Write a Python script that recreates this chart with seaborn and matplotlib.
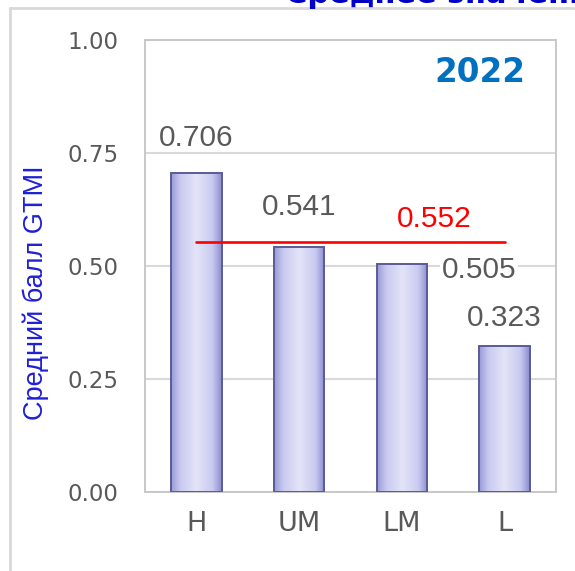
import numpy as np
import pandas as pd
import matplotlib
matplotlib.use('Agg')
import matplotlib.pyplot as plt
import seaborn as sns
from matplotlib.colors import LinearSegmentedColormap
from matplotlib.lines import Line2D

# Data
groups = ['H', 'UM', 'LM', 'L']
scores = [0.706, 0.541, 0.505, 0.323]
average = 0.552
year_label = '2022'
y_ticks = [0.00, 0.25, 0.50, 0.75, 1.00]

df = pd.DataFrame({'group': groups, 'score': scores})

sns.set_style('white')
plt.rcParams['font.family'] = ['DejaVu Sans']

grey_txt = '#595959'
fig = plt.figure(figsize=(5.75, 5.71), dpi=100)
ax = fig.add_axes([145 / 575, 1 - 492 / 571, 411 / 575, 452 / 571])

sns.barplot(data=df, x='group', y='score', width=0.49, color='#c8c9ef',
            edgecolor='#5b5b95', linewidth=1.4, ax=ax, zorder=3)

# bevel-ish gradient inside bars
grad_cmap = LinearSegmentedColormap.from_list(
    'bar', [(0, '#9a9bd8'), (0.18, '#c9caf0'), (0.5, '#e4e4f8'),
            (0.82, '#c9caf0'), (1, '#8c8dd0')])
grad = np.linspace(0, 1, 64).reshape(1, -1)
for p in ax.patches:
    x0, y0 = p.get_x(), p.get_y()
    w, h = p.get_width(), p.get_height()
    im = ax.imshow(grad, extent=[x0, x0 + w, y0, y0 + h], cmap=grad_cmap,
                   aspect='auto', zorder=2.9, interpolation='bicubic')
    im.set_clip_path(p)
    p.set_facecolor('none')

ax.set_xlim(-0.5, len(groups) - 0.5)
ax.set_ylim(0, 1.0)

# average line
ax.plot([0, len(groups) - 1], [average, average], color='#ff0000', lw=1.9, zorder=4)
ax.annotate(f'{average:.3f}', (2, average), xytext=(32, 23), textcoords='offset pixels',
            ha='center', va='center', color='#ff0000', fontsize=21.5,
            family='Liberation Sans', zorder=5)

# value labels
offsets = [(0, 35), (0, 40), (77, -6), (0, 28)]
for i, (v, off) in enumerate(zip(scores, offsets)):
    kw = {}
    if off[0] != 0:
        kw['bbox'] = dict(fc='white', ec='none', pad=1)
    ax.annotate(f'{v:.3f}', (i, v), xytext=off, textcoords='offset pixels',
                ha='center', va='center', color=grey_txt, fontsize=21.5,
                family='Liberation Sans', zorder=5, **kw)

ax.set_yticks(y_ticks)
ax.set_yticklabels([f'{t:.2f}' for t in y_ticks])
ax.tick_params(axis='y', length=0, pad=19, labelsize=16.5, labelcolor=grey_txt)
ax.tick_params(axis='x', length=0, pad=14, labelsize=19.5, labelcolor=grey_txt)
ax.set_xlabel('')
ax.set_ylabel('Средний балл GTMI', color='#1f1fd6', fontsize=19.5,
              family='Liberation Sans', va='center')
ax.yaxis.set_label_coords(-0.265, 0.442)

ax.yaxis.grid(True, color='#d9d9d9', lw=1.5)
ax.set_axisbelow(True)
for s in ax.spines.values():
    s.set_visible(True)
    s.set_color('#c8c8c8')
    s.set_linewidth(1.4)

ax.text(0.815, 0.927, year_label, transform=ax.transAxes, ha='center', va='center',
        color='#0070c0', fontsize=23.5, fontweight='bold')

# cut-off heading and outer frame of the slide
fig.text(285 / 575, 1 - 3 / 571, 'Среднее значение GTMI', ha='left', va='baseline',
         color='#0000c8', fontsize=22, fontweight='bold')
fig.add_artist(Line2D([10 / 575, 1], [1 - 8 / 571, 1 - 8 / 571],
                      transform=fig.transFigure, color='#d9d9d9', lw=2))
fig.add_artist(Line2D([10 / 575, 10 / 575], [0, 1 - 8 / 571],
                      transform=fig.transFigure, color='#d9d9d9', lw=2))

fig.savefig('out.png', dpi=100)
